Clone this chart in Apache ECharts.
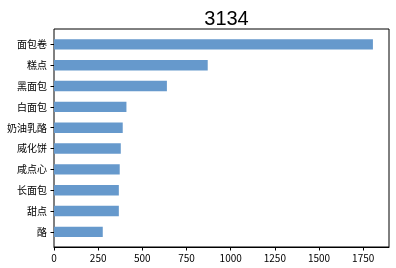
<!DOCTYPE html>
<html><head><meta charset="utf-8">
<script src="https://cdn.jsdelivr.net/npm/echarts@6/dist/echarts.min.js"></script>
<style>html,body{margin:0;padding:0;background:#fff}#c{width:396px;height:268px}</style>
</head><body><div id="c"></div>
<script>
const titleText = "3134";
const categories = ["面包卷","糕点","黑面包","白面包","奶油乳酪","威化饼","咸点心","长面包","甜点","酪"];
const values = [1805, 870, 639, 410, 389, 378, 372, 367, 367, 276];
const xTicks = [0, 250, 500, 750, 1000, 1250, 1500, 1750];
const xMax = 1896;

const chart = echarts.init(document.getElementById('c'), null, {renderer:'canvas'});
const labelFont = '"Noto Sans CJK SC", sans-serif';
chart.setOption({
  animation: false,
  backgroundColor: '#fff',
  title: { text: titleText, left: 221.5, textAlign: 'center', top: 4,
    textStyle: { fontFamily: '"Liberation Sans", Arial, sans-serif', fontSize: 20, fontWeight: 'normal', color: '#000' } },
  grid: [
    { left: 54, right: 7, top: 29, bottom: 21, show: true, borderColor: '#000', borderWidth: 1, backgroundColor: 'transparent' },
    { left: 54, right: 7, top: 34, bottom: 25.7 }
  ],
  xAxis: [
    { gridIndex: 0, type: 'value', min: 0, max: xMax, interval: 250,
      axisLine: { show: true, lineStyle: { color: '#000', width: 1 } },
      axisTick: { show: true, length: 3.5, lineStyle: { color: '#000' } },
      splitLine: { show: false },
      axisLabel: { margin: 6, color: '#000', fontSize: 10, fontFamily: labelFont, showMaxLabel: false,
        formatter: v => xTicks.includes(v) ? String(v) : '' } },
    { gridIndex: 1, type: 'value', min: 0, max: xMax, show: false }
  ],
  yAxis: [
    { gridIndex: 0, type: 'value', show: false },
    { gridIndex: 1, type: 'category', data: categories, inverse: true,
      axisLine: { show: false },
      axisTick: { show: true, length: 3.5, alignWithLabel: true, lineStyle: { color: '#000' } },
      axisLabel: { margin: 7, color: '#000', fontSize: 10, fontFamily: labelFont } }
  ],
  series: [{
    type: 'bar', xAxisIndex: 1, yAxisIndex: 1, data: values, barWidth: '50%',
    itemStyle: { color: '#6699CC' }
  }]
});
</script></body></html>
